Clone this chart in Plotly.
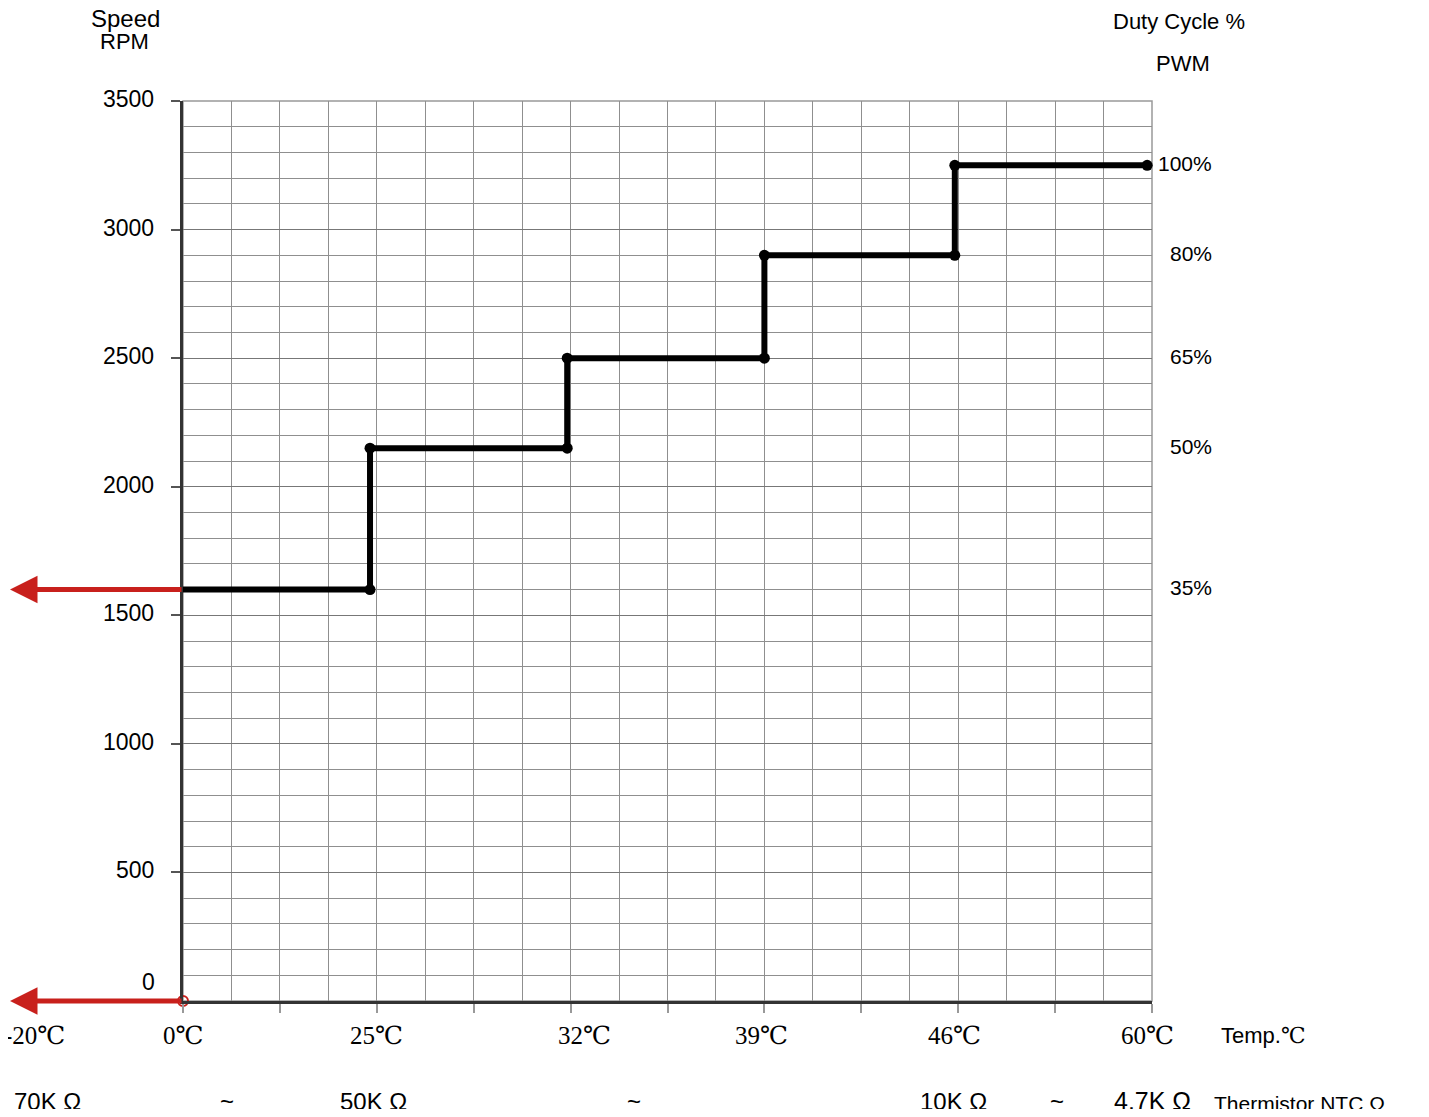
import plotly.graph_objects as go

# ---------------- data ----------------
# x axis is a grid of 20 columns; temperatures sit on non-linear grid positions
temp_labels = ["-20℃", "0℃", "25℃", "32℃", "39℃", "46℃", "60℃"]
temp_grid_pos = [-3.07, 0.0, 4.0, 8.28, 11.95, 15.93, 19.9]

# fan speed step curve (grid position, RPM)
step_x = [0.0, 3.86, 3.86, 7.93, 7.93, 12.0, 12.0, 15.93, 15.93, 19.9]
step_rpm = [1600, 1600, 2150, 2150, 2500, 2500, 2900, 2900, 3250, 3250]

# left axis tick labels
rpm_ticks = [0, 500, 1000, 1500, 2000, 2500, 3000, 3500]

# duty cycle labels and their speed levels
duty_labels = ["100%", "80%", "65%", "50%", "35%"]
duty_rpm = [3250, 2900, 2500, 2150, 1600]

# thermistor resistance row
res_labels = ["70K Ω", "~", "50K Ω", "~", "10K Ω", "~", "4.7K Ω"]

# ---------------- styling helpers ----------------
SANS = "Liberation Sans, Arial, sans-serif"
SERIF = "Liberation Serif, Times New Roman, DejaVu Serif, serif"
RED = "#c8201c"
GRID = "#8f8f8f"

OFF = 8  # default page body margin
L, R, T, B = 183, 1152, 101, 1001   # plot area in page pixels
W, H = 1429, 1117
PW, PH = R - L, B - T
GRID_COLS = 20


def px_x(p):
    return (p - L) / PW


def px_y(p):
    return (B - p) / PH


fig = go.Figure()

fig.add_trace(go.Scatter(
    x=step_x, y=step_rpm, mode="lines",
    line=dict(color="black", width=6), cliponaxis=False, hoverinfo="skip",
    showlegend=False))
fig.add_trace(go.Scatter(
    x=step_x[1:], y=step_rpm[1:], mode="markers",
    marker=dict(color="black", size=11), cliponaxis=False, hoverinfo="skip",
    showlegend=False))

annotations = []

# red arrows pointing left (at 1600 RPM and 0 RPM)
arrow_tip = px_x(10) * GRID_COLS
for yv in [step_rpm[0], 0]:
    annotations.append(dict(
        x=arrow_tip, y=yv, ax=0, ay=yv, xref="x", yref="y",
        axref="x", ayref="y", text="", showarrow=True, arrowhead=2,
        arrowsize=1.1, arrowwidth=5, arrowcolor=RED, standoff=0, startstandoff=0))

# left tick labels
for v in rpm_ticks:
    annotations.append(dict(
        x=px_x(157 if v == 0 else 156), y=v, xref="paper", yref="y",
        text=str(v), showarrow=False, xanchor="right", yanchor="middle",
        yshift=19 if v == 0 else 2, font=dict(family=SANS, size=23, color="black")))

# right duty labels
for lab, v in zip(duty_labels, duty_rpm):
    annotations.append(dict(
        x=px_x(1214), y=v, xref="paper", yref="y", text=lab, showarrow=False,
        xanchor="right", yanchor="middle", yshift=2,
        font=dict(family=SANS, size=21, color="black")))

# temperature labels
for lab, xp in zip(temp_labels, temp_grid_pos):
    annotations.append(dict(
        x=xp / GRID_COLS, y=px_y(1035), xref="paper", yref="paper", text=lab,
        showarrow=False, xanchor="center", yanchor="middle",
        font=dict(family=SERIF, size=25, color="black")))

# headers
hdr = [
    dict(x=px_x(125), y=px_y(19), text="Speed", font=dict(family=SANS, size=24, color="black")),
    dict(x=px_x(124), y=px_y(42), text="RPM", font=dict(family=SANS, size=22, color="black")),
    dict(x=px_x(1179), y=px_y(21), text="Duty Cycle %", font=dict(family=SANS, size=22, color="black")),
    dict(x=px_x(1183), y=px_y(63), text="PWM", font=dict(family=SANS, size=22, color="black")),
]
for a in hdr:
    a.update(xref="paper", yref="paper", showarrow=False, xanchor="center", yanchor="middle")
annotations += hdr

annotations.append(dict(
    x=px_x(1219), y=px_y(1035), xref="paper", yref="paper", showarrow=False,
    xanchor="left", yanchor="middle",
    text="Temp.<span style='font-family:" + SERIF + "'>℃</span>",
    font=dict(family=SANS, size=22, color="black")))

# resistance row
res_px = [47, 227, 373, 634, 953, 1057]
for lab, p in zip(res_labels[:-1], res_px):
    annotations.append(dict(
        x=px_x(p), y=px_y(1101), xref="paper", yref="paper", text=lab,
        showarrow=False, xanchor="center", yanchor="middle",
        font=dict(family=SANS, size=24, color="black")))
annotations.append(dict(
    x=px_x(1112), y=px_y(1101), xref="paper", yref="paper", text=res_labels[-1],
    showarrow=False, xanchor="left", yanchor="middle",
    font=dict(family=SANS, size=25, color="black")))
annotations.append(dict(
    x=px_x(1212), y=px_y(1103), xref="paper", yref="paper", text="Thermistor NTC Ω",
    showarrow=False, xanchor="left", yanchor="middle",
    font=dict(family=SANS, size=21, color="black")))

fig.update_layout(
    width=W - 2 * OFF, height=H - 2 * OFF,
    margin=dict(l=L - OFF, r=W - OFF - R, t=T - OFF, b=H - OFF - B, pad=0),
    paper_bgcolor="white", plot_bgcolor="white",
    showlegend=False,
    annotations=annotations,
    xaxis=dict(
        range=[0, GRID_COLS], tick0=0, dtick=2, showgrid=True, gridcolor=GRID, gridwidth=1.2,
        ticks="outside", ticklen=9, tickcolor="#999999", tickwidth=1.5,
        showticklabels=False, zeroline=False,
        showline=True, linecolor="#333333", linewidth=2.5,
        minor=dict(dtick=1, tick0=0, showgrid=True, gridcolor=GRID, gridwidth=1.2, ticks=""),
        fixedrange=True),
    yaxis=dict(
        range=[0, 3500], tick0=0, dtick=500, showgrid=True, gridcolor="#777777", gridwidth=1.3,
        ticks="outside", ticklen=9, tickcolor="#555555", tickwidth=1.5,
        showticklabels=False, zeroline=False,
        showline=True, linecolor="#333333", linewidth=2.5,
        minor=dict(dtick=100, tick0=0, showgrid=True, gridcolor=GRID, gridwidth=1.2, ticks=""),
        fixedrange=True),
    shapes=[dict(type="rect", xref="paper", yref="paper", x0=0, x1=1, y0=0, y1=1,
                 line=dict(color="#999999", width=1.5), layer="below")],
)

# small red open circle at the origin
fig.add_trace(go.Scatter(
    x=[0], y=[0], mode="markers",
    marker=dict(symbol="circle-open", color=RED, size=10, line=dict(width=2, color=RED)),
    cliponaxis=False, hoverinfo="skip", showlegend=False))

fig.write_html("out.html")
